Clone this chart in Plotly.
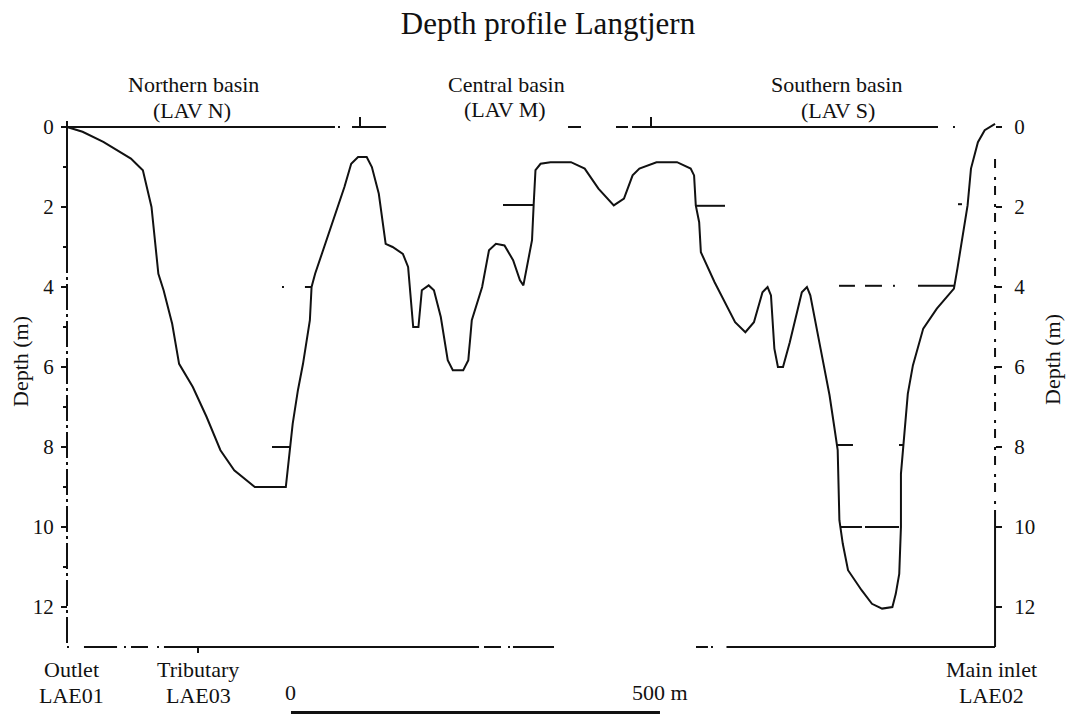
import plotly.graph_objects as go

# ---------------- data (distance along lake in m, depth in m) ----------------
profile_dist = [0.0, 21.1, 49.2, 86.6, 98.2, 102.8, 114.5, 123.8, 130.9, 142.5,
                151.9, 170.5, 189.2, 207.9, 226.6, 254.5, 296.5, 301.2, 305.8, 312.9,
                319.8, 329.1, 331.4, 336.2, 357.2, 375.9, 385.1, 394.4, 406.1, 413.1,
                422.5, 427.1, 431.8, 441.2, 455.1, 462.2, 466.8, 469.1, 476.2, 480.8,
                490.1, 497.2, 506.5, 515.9, 522.8, 536.9, 543.8, 548.5, 562.5, 571.8,
                581.2, 592.8, 604.5, 613.8, 618.4, 623.2, 630.1, 632.4, 634.8, 641.7,
                655.1, 682.9, 701.5, 720.1, 740.9, 754.7, 766.4, 775.6, 798.8, 826.6,
                845.1, 849.7, 852.0, 856.6, 858.9, 877.5, 905.3, 919.2, 930.8, 942.4,
                949.3, 953.9, 958.5, 963.3, 970.2, 979.4, 995.7, 1002.6, 1007.2, 1021.1,
                1033.2, 1039.7, 1044.3, 1046.6, 1051.2, 1058.3, 1076.7, 1090.7, 1104.5, 1118.4,
                1123.0, 1127.7, 1130.0, 1130.0, 1134.7, 1139.3, 1146.2, 1160.2, 1178.6, 1201.8,
                1206.5, 1215.7, 1220.3, 1224.9, 1234.3, 1243.5, 1257.5]
profile_depth = [0.00, 0.12, 0.37, 0.79, 1.00, 1.08, 2.00, 3.67, 4.08, 4.92,
                 5.92, 6.50, 7.25, 8.08, 8.58, 9.00, 9.00, 8.25, 7.42, 6.58,
                 5.92, 4.83, 4.00, 3.67, 2.50, 1.50, 0.92, 0.75, 0.75, 1.00,
                 1.67, 2.33, 2.92, 3.00, 3.17, 3.50, 4.50, 5.00, 5.00, 4.08,
                 3.96, 4.08, 4.75, 5.83, 6.08, 6.08, 5.83, 4.83, 4.00, 3.08,
                 2.92, 2.96, 3.33, 3.83, 3.96, 3.50, 2.83, 1.92, 1.08, 0.92,
                 0.88, 0.88, 1.04, 1.54, 1.96, 1.79, 1.21, 1.04, 0.88, 0.88,
                 1.04, 1.21, 1.96, 2.38, 3.13, 3.88, 4.88, 5.13, 4.88, 4.13,
                 4.00, 4.21, 5.54, 6.00, 6.00, 5.38, 4.13, 4.00, 4.21, 5.54,
                 6.70, 7.50, 8.08, 9.83, 10.42, 11.08, 11.58, 11.92, 12.04, 12.00,
                 11.67, 11.17, 10.00, 8.67, 7.67, 6.67, 5.96, 5.04, 4.54, 4.04,
                 3.54, 2.46, 1.96, 1.04, 0.38, 0.08, -0.08]

# horizontal level markers: (start m, end m, depth m)
level_marks = [
    (0.0, 363.1, 0.0), (367.2, 369.9, 0.0), (386.2, 432.3, 0.0),
    (678.9, 696.5, 0.0), (743.9, 760.2, 0.0), (765.6, 1180.2, 0.0), (1200.5, 1203.2, 0.0),
    (277.8, 303.5, 8.0),
    (291.3, 294.0, 4.0), (322.4, 331.9, 4.0),
    (590.8, 632.8, 1.95),
    (852.3, 891.6, 1.97),
    (1046.1, 1067.7, 3.97), (1081.3, 1104.3, 3.97), (1119.2, 1121.9, 3.97), (1153.1, 1201.9, 3.97),
    (1207.3, 1212.7, 1.93),
    (1042.0, 1065.0, 7.95), (1127.4, 1132.8, 7.95),
    (1048.8, 1077.2, 10.0), (1081.3, 1127.4, 10.0),
]
# small vertical survey ticks on the water surface: (distance m, from depth, to depth)
surface_ticks = [(397.0, 0.0, -0.25), (791.3, 0.0, -0.25)]

# bottom frame (broken line at 13 m)
bottom_depth = 13.0
bottom_segments = [(0.0, 2.7), (23.0, 67.8), (77.2, 79.9), (86.7, 109.8), (122.0, 124.7),
                   (131.4, 558.3), (565.0, 588.1), (597.6, 600.3), (604.3, 659.9),
                   (852.3, 868.5), (872.6, 875.3), (893.6, 1257.5)]
tributary_dist = 177.5
lake_length = 1257.5

# scale bar
scale_start, scale_len = 303.5, 500.0
scale_depth = 14.64

depth_ticks = [0, 2, 4, 6, 8, 10, 12]
depth_minor = [1, 3, 5, 7, 9, 11]

# ---------------- layout helpers ----------------
OFF = 0                    # page body margin (removed below)
W, H = 1066 - OFF, 718 - OFF
PX0 = 67                   # page pixel of distance 0
M_PER_PX = 500 / 369
Y0_PX = 127                # page pixel of depth 0
PX_PER_M_DEPTH = 40
x_range = [(OFF - PX0) * M_PER_PX, (OFF + W - PX0) * M_PER_PX]
y_range = [(OFF + H - Y0_PX) / PX_PER_M_DEPTH, (OFF - Y0_PX) / PX_PER_M_DEPTH]

FONT = "Liberation Serif, Times New Roman, serif"
BLACK = "#111111"


def px_x(p):
    return (p - OFF) / W


def px_y(p):
    return 1 - (p - OFF) / H


def segs(items):
    xs, ys = [], []
    for a, b, d in items:
        xs += [a, b, None]
        ys += [d, d, None]
    return xs, ys


fig = go.Figure()

# depth profile
fig.add_trace(go.Scatter(x=profile_dist, y=profile_depth, mode="lines",
                         line=dict(color=BLACK, width=2), hoverinfo="skip"))

# level marks
lx, ly = segs(level_marks)
fig.add_trace(go.Scatter(x=lx, y=ly, mode="lines", line=dict(color=BLACK, width=2),
                         hoverinfo="skip", connectgaps=False))
tx, ty = [], []
for d, a, b in surface_ticks:
    tx += [d, d, None]
    ty += [a, b, None]
tx += [tributary_dist, tributary_dist, None]
ty += [bottom_depth, bottom_depth + 0.15, None]
fig.add_trace(go.Scatter(x=tx, y=ty, mode="lines", line=dict(color=BLACK, width=2),
                         hoverinfo="skip"))

# bottom frame
bx, by = segs([(a, b, bottom_depth) for a, b in bottom_segments])
fig.add_trace(go.Scatter(x=bx, y=by, mode="lines", line=dict(color=BLACK, width=2),
                         hoverinfo="skip"))

# left frame: solid top part, dash-dot below
fig.add_trace(go.Scatter(x=[0, 0], y=[-0.15, 3.0], mode="lines",
                         line=dict(color=BLACK, width=2), hoverinfo="skip"))
fig.add_trace(go.Scatter(x=[0, 0], y=[3.0, bottom_depth], mode="lines",
                         line=dict(color=BLACK, width=2, dash="26px,4px,3px,4px"),
                         hoverinfo="skip"))

# right frame: broken upper part, solid lower part (on right axis)
fig.add_trace(go.Scatter(x=[lake_length, lake_length], y=[0.8, 9.75], mode="lines",
                         line=dict(color=BLACK, width=2, dash="9px,9px,3px,6px"),
                         hoverinfo="skip", yaxis="y2"))
fig.add_trace(go.Scatter(x=[lake_length, lake_length], y=[9.75, bottom_depth], mode="lines",
                         line=dict(color=BLACK, width=2), hoverinfo="skip", yaxis="y2"))

# scale bar
fig.add_trace(go.Scatter(x=[scale_start, scale_start + scale_len], y=[scale_depth, scale_depth],
                         mode="lines", line=dict(color=BLACK, width=3), hoverinfo="skip"))

axis_common = dict(range=y_range, tickvals=depth_ticks, ticks="outside", ticklen=6,
                   tickwidth=2, tickcolor=BLACK, showgrid=False, zeroline=False,
                   showline=False, tickfont=dict(family=FONT, size=21, color=BLACK),
                   anchor="free")

fig.update_layout(
    width=W, height=H,
    margin=dict(l=0, r=0, t=0, b=0),
    paper_bgcolor="white", plot_bgcolor="white",
    showlegend=False,
    font=dict(family=FONT, color=BLACK),
    xaxis=dict(range=x_range, visible=False, domain=[0, 1]),
    yaxis=dict(**axis_common, side="left", position=px_x(PX0), ticklabelstandoff=3,
               minor=dict(tickvals=depth_minor, ticks="outside", ticklen=4,
                          tickwidth=2, tickcolor=BLACK)),
    yaxis2=dict(**axis_common, side="right", overlaying="y", ticklabelstandoff=8,
                position=px_x(PX0 + lake_length / M_PER_PX)),
    title=dict(text="Depth profile Langtjern", x=px_x(548), y=px_y(23),
               xanchor="center", yanchor="middle",
               font=dict(family=FONT, size=31, color=BLACK)),
)


def label(text, px, py, size=22, angle=0):
    fig.add_annotation(text=text, x=px_x(px), y=px_y(py), xref="paper", yref="paper",
                       showarrow=False, xanchor="center", yanchor="middle",
                       textangle=angle, font=dict(family=FONT, size=size, color=BLACK))


label("Northern basin", 193, 84)
label("(LAV N)", 192, 110)
label("Central basin", 506, 84)
label("(LAV M)", 505, 109)
label("Southern basin", 836, 84)
label("(LAV S)", 838, 110)
label("Outlet", 71, 669)
label("LAE01", 71, 695)
label("Tributary", 198, 669)
label("LAE03", 198, 695)
label("Main inlet", 991, 669)
label("LAE02", 991, 695)
label("Depth (m)", 20, 362, angle=-90)
label("Depth (m)", 1052, 360, angle=-90)

# scale bar labels tied to the data positions
fig.add_annotation(text="0", x=scale_start, y=scale_depth, xref="x", yref="y",
                   showarrow=False, yshift=20, font=dict(family=FONT, size=22, color=BLACK))
fig.add_annotation(text="500 m", x=scale_start + scale_len, y=scale_depth, xref="x", yref="y",
                   showarrow=False, yshift=20, font=dict(family=FONT, size=22, color=BLACK))

fig.write_html("out.html",
               config={"displayModeBar": False},
               post_script="document.body.style.margin='0';"
                           "document.documentElement.style.overflow='hidden';")
